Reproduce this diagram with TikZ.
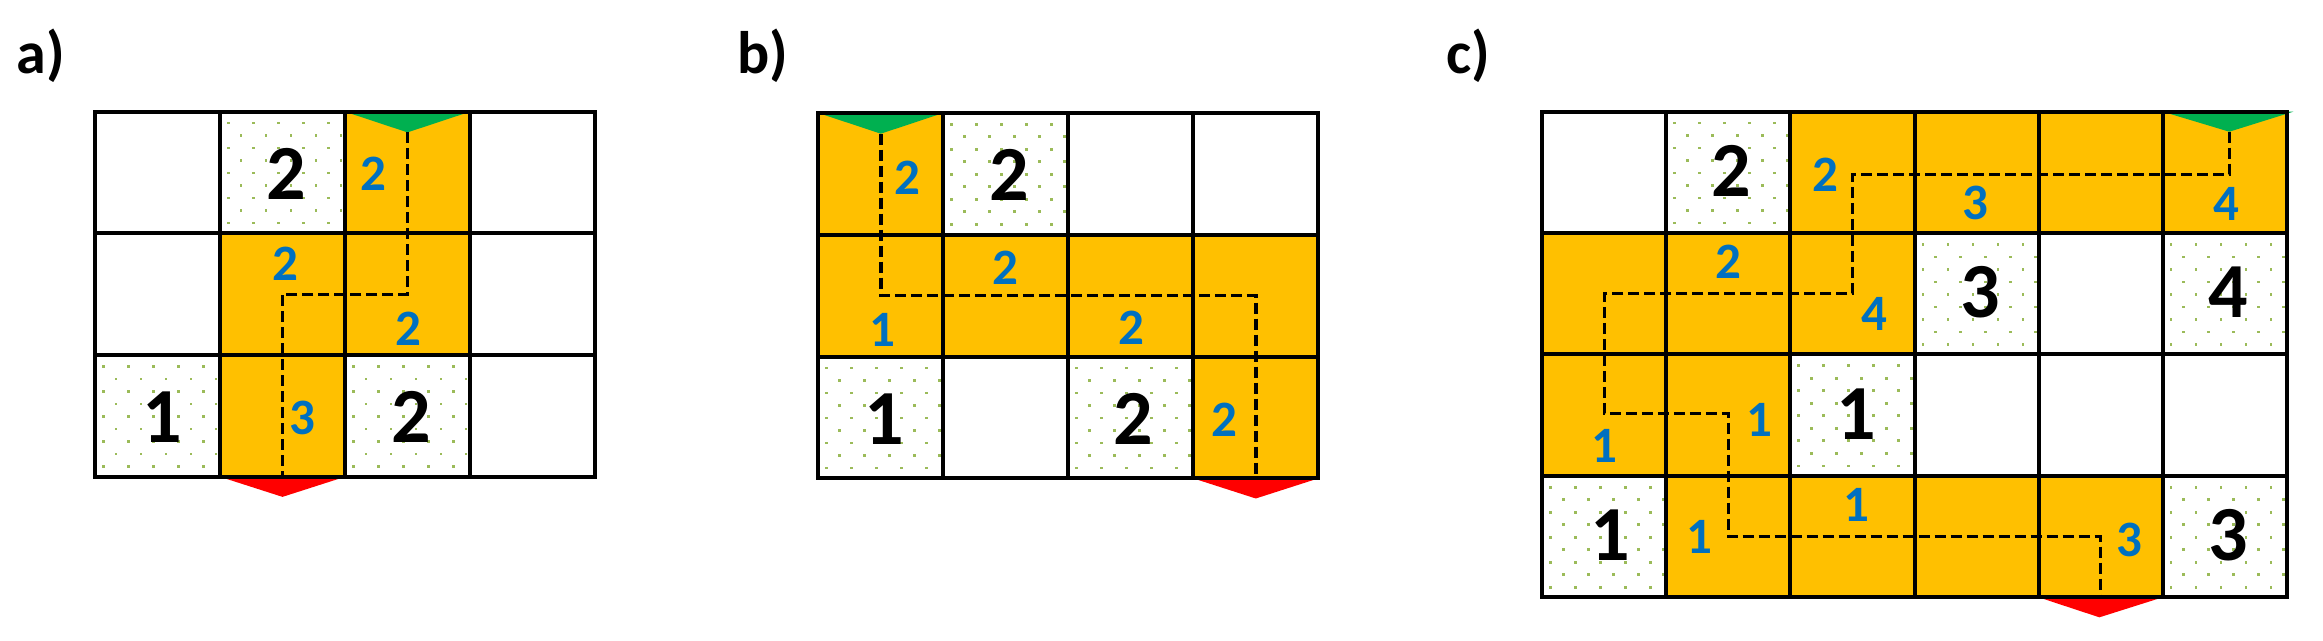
\documentclass[tikz,border=0pt]{standalone}
\usepackage{fontspec}
\setmainfont{Carlito}
\usepackage{xcolor}
\definecolor{pathorange}{HTML}{FFC000}
\definecolor{hintblue}{HTML}{0070C0}
\definecolor{dotgreen}{HTML}{9BBB59}
\definecolor{startgreen}{HTML}{00B050}
\definecolor{endred}{HTML}{FF0000}
\tikzset{
  gridline/.style={draw=black, line width=2pt, line cap=rect},
  pathcell/.style={fill=pathorange},
  dotmark/.style={fill=dotgreen},
  clue/.style={font=\fontsize{39}{41}\selectfont\bfseries, text=black, inner sep=0pt},
  hint/.style={font=\fontsize{25.5}{27}\selectfont\bfseries, text=hintblue, inner sep=0pt},
  tag/.style={font=\fontsize{30}{32}\selectfont\bfseries, anchor=base west, inner sep=0pt},
  route/.style={draw=black, line width=1.7pt, dash pattern=on 5.5pt off 2.5pt},
  startmark/.style={fill=startgreen},
  endmark/.style={fill=endred}
}
% dotted clue cell, offsets in reference pixels
\newcommand{\dotcell}[2]{%
  \foreach \j in {0,...,8}{%
    \foreach \i in {0,...,4}{%
      \fill[dotmark] ({#1+(7+25*\i+12.5*mod(\j,2))/\cw},{#2+(10+12.5*\j)/\ch}) rectangle ++(1.4pt,-1.4pt);
    }}}

\begin{document}
\begin{tikzpicture}[x=0.5pt, y=-0.5pt]
\useasboundingbox (0,0) rectangle (2323,641);
\node[tag] (tag-a) at (16,74) {a)};
\node[tag] (tag-b) at (737,74) {b)};
\node[tag] (tag-c) at (1446,74) {c)};

% a)
\begin{scope}[shift={(47.5pt,-55.85pt)}, x=62.5pt, y=-60.85pt]
\def\cw{125}\def\ch{121.7}
\foreach \c/\r in {2/0,1/1,2/1,1/2}
  \fill[pathcell] (\c,\r) rectangle ++(1,1);
\foreach \c/\r in {1/0,0/2,2/2}{\dotcell{\c}{\r}}
\fill[startmark] (2,0) -- (3,0) -- (2.5,0.17) -- cycle;
\fill[endmark] (1,3) -- (2,3) -- (1.5,3.165) -- cycle;
\foreach \c in {0,...,4} \draw[gridline] (\c,0) -- (\c,3);
\foreach \r in {0,...,3} \draw[gridline] (0,\r) -- (4,\r);
\draw[route] (2.5,0.17) -- (2.5,1.5) -- (1.5,1.5) -- (1.5,3);
\node[clue] (a-c1) at (1.53,0.51) {2};
\node[clue] (a-c2) at (0.54,2.51) {1};
\node[clue] (a-c3) at (2.53,2.51) {2};
\node[hint] (a-h1) at (2.23,0.51) {2};
\node[hint] (a-h2) at (1.52,1.25) {2};
\node[hint] (a-h3) at (2.51,1.78) {2};
\node[hint] (a-h4) at (1.66,2.52) {3};
\end{scope}

% b)
\begin{scope}[shift={(409.15pt,-56.5pt)}, x=62.5pt, y=-60.9pt]
\def\cw{125}\def\ch{121.8}
\foreach \c/\r in {0/0,0/1,1/1,2/1,3/1,3/2}
  \fill[pathcell] (\c,\r) rectangle ++(1,1);
\foreach \c/\r in {1/0,0/2,2/2}{\dotcell{\c}{\r}}
\fill[startmark] (0,0) -- (1,0) -- (0.5,0.17) -- cycle;
\fill[endmark] (3,3) -- (4,3) -- (3.5,3.165) -- cycle;
\foreach \c in {0,...,4} \draw[gridline] (\c,0) -- (\c,3);
\foreach \r in {0,...,3} \draw[gridline] (0,\r) -- (4,\r);
\draw[route] (0.5,0.17) -- (0.5,1.5) -- (3.5,1.5) -- (3.5,3);
\node[clue] (b-c1) at (1.53,0.51) {2};
\node[clue] (b-c2) at (0.53,2.51) {1};
\node[clue] (b-c3) at (2.52,2.51) {2};
\node[hint] (b-h1) at (0.71,0.53) {2};
\node[hint] (b-h2) at (0.51,1.78) {1};
\node[hint] (b-h3) at (1.50,1.27) {2};
\node[hint] (b-h4) at (2.505,1.76) {2};
\node[hint] (b-h5) at (3.25,2.515) {2};
\end{scope}

% c)
\begin{scope}[shift={(771.15pt,-55.85pt)}, x=62.035pt, y=-60.7pt]
\def\cw{124.07}\def\ch{121.4}
\foreach \c/\r in {2/0,3/0,4/0,5/0,0/1,1/1,2/1,0/2,1/2,1/3,2/3,3/3,4/3}
  \fill[pathcell] (\c,\r) rectangle ++(1,1);
\foreach \c/\r in {1/0,3/1,5/1,2/2,0/3,5/3}{\dotcell{\c}{\r}}
\fill[startmark] (5,0) -- (6.053,0) -- (5.537,0.165) -- cycle;
\fill[endmark] (4,4) -- (5,4) -- (4.49,4.165) -- cycle;
\foreach \c in {0,...,6} \draw[gridline] (\c,0) -- (\c,4);
\foreach \r in {0,...,4} \draw[gridline] (0,\r) -- (6,\r);
\draw[route] (5.537,0.165) -- (5.537,0.515) -- (2.5,0.515) -- (2.5,1.5)
  -- (0.5,1.5) -- (0.5,2.485) -- (1.5,2.485) -- (1.5,3.5) -- (4.5,3.5) -- (4.5,4);
\node[clue] (c-c1) at (1.52,0.49) {2};
\node[clue] (c-c2) at (3.53,1.49) {3};
\node[clue] (c-c3) at (5.53,1.49) {4};
\node[clue] (c-c4) at (2.53,2.49) {1};
\node[clue] (c-c5) at (0.55,3.49) {1};
\node[clue] (c-c6) at (5.53,3.49) {3};
\node[hint] (c-h1) at (2.28,0.52) {2};
\node[hint] (c-h2) at (3.49,0.75) {3};
\node[hint] (c-h3) at (5.51,0.76) {4};
\node[hint] (c-h4) at (1.50,1.236) {2};
\node[hint] (c-h5) at (2.68,1.67) {4};
\node[hint] (c-h6) at (0.50,2.75) {1};
\node[hint] (c-h7) at (1.75,2.54) {1};
\node[hint] (c-h8) at (1.27,3.50) {1};
\node[hint] (c-h9) at (2.535,3.24) {1};
\node[hint] (c-h10) at (4.73,3.53) {3};
\end{scope}
\end{tikzpicture}
\end{document}
